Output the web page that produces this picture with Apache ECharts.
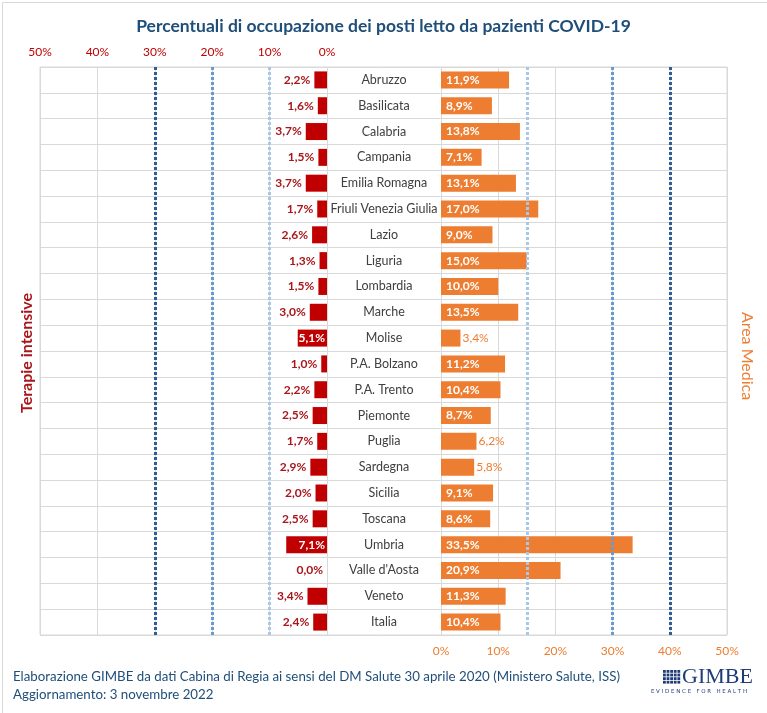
<!DOCTYPE html>
<html>
<head>
<meta charset="utf-8">
<script src="https://cdn.jsdelivr.net/npm/echarts@6/dist/echarts.min.js"></script>
<style>
  html, body { margin: 0; padding: 0; background: #fff; }
  #main { width: 767px; height: 713px; }
</style>
</head>
<body>
<div id="main"></div>
<script>
var regioni = ['Abruzzo', 'Basilicata', 'Calabria', 'Campania', 'Emilia Romagna', 'Friuli Venezia Giulia',
	'Lazio', 'Liguria', 'Lombardia', 'Marche', 'Molise', 'P.A. Bolzano', 'P.A. Trento', 'Piemonte',
	'Puglia', 'Sardegna', 'Sicilia', 'Toscana', 'Umbria', "Valle d'Aosta", 'Veneto', 'Italia'];
var terapieIntensive = [2.2, 1.6, 3.7, 1.5, 3.7, 1.7, 2.6, 1.3, 1.5, 3.0, 5.1, 1.0, 2.2, 2.5, 1.7, 2.9, 2.0, 2.5, 7.1, 0.0, 3.4, 2.4];
var areaMedica = [11.9, 8.9, 13.8, 7.1, 13.1, 17.0, 9.0, 15.0, 10.0, 13.5, 3.4, 11.2, 10.4, 8.7, 6.2, 5.8, 9.1, 8.6, 33.5, 20.9, 11.3, 10.4];
// soglie tratteggiate
var soglieTI = [10, 20, 30];
var soglieAM = [15, 30, 40];
var coloriSoglie = ['#a9c7e6', '#6a9bd0', '#2f5d96'];

var FONT = 'Lato';
var rosso = '#c00000';
var rossoTesto = '#a8161b';
var arancio = '#ed7d31';
var griglia = '#d9d9d9';
var blu = '#1f3c78';

function pct( v ) {
	return v.toFixed( 1 ).replace( '.', ',' ) + '%';
}

var datiTI = terapieIntensive.map( function( v ) {
	var dentro = v >= 5;
	return {
		value: v,
		label: {
			position: dentro ? 'insideRight' : 'left',
			color: dentro ? '#fff' : rossoTesto,
			distance: dentro ? 2 : 4
		}
	};
} );

var datiAM = areaMedica.map( function( v ) {
	var dentro = v >= 7;
	return {
		value: v,
		label: {
			position: dentro ? 'insideLeft' : 'right',
			color: dentro ? '#fff' : arancio,
			fontWeight: dentro ? 'bold' : 'normal',
			distance: dentro ? 5 : 2
		}
	};
} );

function linee( soglie ) {
	return soglie.map( function( s, i ) {
		return { xAxis: s, lineStyle: { color: coloriSoglie[i] } };
	} );
}

// piccolo logo a griglia
var logo = [];
for ( var r = 0; r < 4; r++ ) {
	for ( var c = 0; c < 5; c++ ) {
		logo.push( {
			type: 'rect', shape: { x: 663 + c * 3.6, y: 670 + r * 3.6, width: 2.8, height: 2.8 },
			style: { fill: blu }
		} );
	}
}

var myChart = echarts.init( document.getElementById( 'main' ) );
var option = {
	animation: false,
	backgroundColor: '#fff',
	title: {
		text: 'Percentuali di occupazione dei posti letto da pazienti COVID-19',
		left: 'center',
		top: 12,
		textStyle: { color: '#1f4e79', fontSize: 17.5, fontWeight: 'bold', fontFamily: FONT }
	},
	grid: [
		{ left: 40, right: 40, top: 67, bottom: 78, show: true, borderColor: griglia, borderWidth: 1 },
		{ left: 40, width: 287, top: 67, bottom: 78 },
		{ left: 441, right: 40, top: 67, bottom: 78 }
	],
	xAxis: [
		{ gridIndex: 0, type: 'value', show: false, min: 0, max: 1 },
		{
			gridIndex: 1, type: 'value', inverse: true, min: 0, max: 50, interval: 10, position: 'top',
			axisLine: { show: false }, axisTick: { show: false },
			axisLabel: { formatter: '{value}%', color: rosso, fontSize: 12, fontFamily: FONT, margin: 9 },
			splitLine: { show: true, lineStyle: { color: griglia } }
		},
		{
			gridIndex: 2, type: 'value', min: 0, max: 50, interval: 10, position: 'bottom',
			axisLine: { show: false }, axisTick: { show: false },
			axisLabel: { formatter: '{value}%', color: arancio, fontSize: 12, fontFamily: FONT, margin: 10 },
			splitLine: { show: true, lineStyle: { color: griglia } }
		}
	],
	yAxis: [
		{
			gridIndex: 0, type: 'category', data: regioni, inverse: true,
			axisLine: { show: false }, axisTick: { show: false }, axisLabel: { show: false },
			splitLine: { show: true, lineStyle: { color: griglia } }
		},
		{
			gridIndex: 1, type: 'category', data: regioni, inverse: true, position: 'right',
			axisLine: { show: false }, axisTick: { show: false }, axisLabel: { show: false }
		},
		{
			gridIndex: 2, type: 'category', data: regioni, inverse: true, position: 'left',
			axisLine: { show: false }, axisTick: { show: false },
			axisLabel: { interval: 0, align: 'center', margin: 57, color: '#404040', fontSize: 12.5, fontFamily: FONT }
		}
	],
	series: [
		{
			name: 'Terapie intensive', type: 'bar', xAxisIndex: 1, yAxisIndex: 1,
			data: datiTI, barWidth: 17,
			itemStyle: { color: rosso },
			label: {
				show: true, fontWeight: 'bold', fontSize: 12, fontFamily: FONT,
				formatter: function( p ) { return pct( p.value ); }
			},
			markLine: {
				silent: true, symbol: 'none', label: { show: false },
				lineStyle: { type: [3, 2], width: 3 },
				data: linee( soglieTI )
			}
		},
		{
			name: 'Area Medica', type: 'bar', xAxisIndex: 2, yAxisIndex: 2,
			data: datiAM, barWidth: 17,
			itemStyle: { color: arancio },
			label: {
				show: true, fontSize: 12, fontFamily: FONT,
				formatter: function( p ) { return pct( p.value ); }
			},
			markLine: {
				silent: true, symbol: 'none', label: { show: false },
				lineStyle: { type: [3, 2], width: 3 },
				data: linee( soglieAM )
			}
		}
	],
	graphic: [
		{
			type: 'rect', left: 0, top: 0, silent: true,
			shape: { x: 0.5, y: 0.5, width: 765, height: 711 },
			style: { fill: 'none', stroke: griglia, lineWidth: 1 }
		},
		{
			type: 'text', x: 27, y: 353, rotation: Math.PI / 2,
			style: { text: 'Terapie intensive', fill: rossoTesto, font: 'bold 16px ' + FONT, textAlign: 'center', textVerticalAlign: 'middle' }
		},
		{
			type: 'text', x: 747, y: 356, rotation: -Math.PI / 2,
			style: { text: 'Area Medica', fill: arancio, font: '16px ' + FONT, textAlign: 'center', textVerticalAlign: 'middle' }
		},
		{
			type: 'text', x: 13, y: 677,
			style: { text: 'Elaborazione GIMBE da dati Cabina di Regia ai sensi del DM Salute 30 aprile 2020 (Ministero Salute, ISS)', fill: '#1f4e79', font: '13.3px ' + FONT, textVerticalAlign: 'middle' }
		},
		{
			type: 'text', x: 13, y: 695,
			style: { text: 'Aggiornamento: 3 novembre 2022', fill: '#1f4e79', font: '13.3px ' + FONT, textVerticalAlign: 'middle' }
		},
		{
			type: 'text', x: 682, y: 677,
			style: { text: 'GIMBE', fill: blu, font: '22px "Liberation Serif"', textVerticalAlign: 'middle' }
		},
		{
			type: 'text', x: 699, y: 692,
			style: { text: 'E V I D E N C E   F O R   H E A L T H', fill: blu, font: '5.5px "DejaVu Sans"', textAlign: 'center', textVerticalAlign: 'middle' }
		}
	].concat( logo )
};
myChart.setOption( option, true );
</script>
</body>
</html>
